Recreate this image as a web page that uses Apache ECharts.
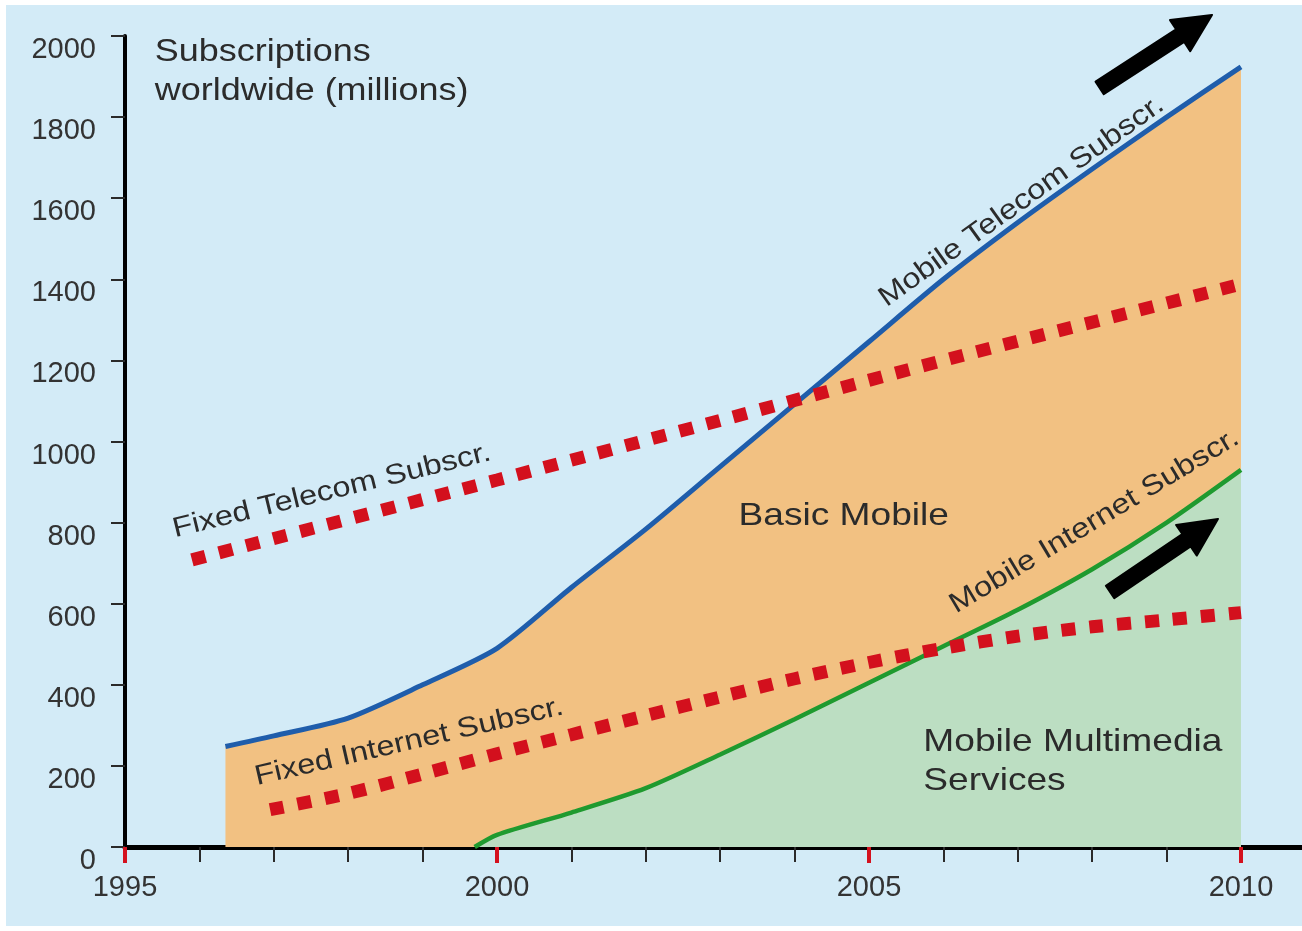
<!DOCTYPE html>
<html>
<head>
<meta charset="utf-8">
<title>Subscriptions worldwide (millions)</title>
<script src="https://cdn.jsdelivr.net/npm/echarts@6/dist/echarts.min.js"></script>
<style>
  html, body { margin: 0; padding: 0; background: #ffffff; width: 1302px; height: 931px; overflow: hidden; }
  #chart { position: absolute; left: 6px; top: 5px; width: 1296px; height: 921px; background: #d3ebf7; }
</style>
</head>
<body>
<div id="chart"></div>
<script>
// Subscriptions worldwide, in millions, by year
const mobileTelecomYears  = [1996.35, 1997, 1998, 1999, 2000, 2001, 2002, 2003, 2004, 2005, 2006, 2007, 2008, 2009, 2010];
const mobileTelecomValues = [248, 274, 318, 400, 490, 640, 784, 938, 1092, 1246, 1400, 1540, 1672, 1800, 1924];

const mobileInternetYears  = [1999.7, 2000, 2001, 2002, 2003, 2004, 2005, 2006, 2007, 2008, 2009, 2010];
const mobileInternetValues = [0, 30, 85, 145, 228, 315, 405, 495, 585, 685, 800, 930];

const fixedTelecomYears  = [1995.9, 2000, 2003, 2006, 2010];
const fixedTelecomValues = [708, 905, 1052, 1200, 1388];

const fixedInternetYears  = [1996.95, 1998, 1999, 2000, 2001, 2002, 2003, 2004, 2005, 2006, 2007, 2008, 2009, 2010];
const fixedInternetValues = [92, 132, 180, 230, 277, 324, 370, 415, 455, 490, 520, 543, 560, 578];

const yearLabels = [1995, 2000, 2005, 2010];

// annotations placed in data coordinates [year, value]
const titleText = 'Subscriptions\nworldwide (millions)';
const titleAt = [1995.40, 1912];
const seriesLabels = [
  { text: 'Fixed Telecom Subscr.',   at: [1997.78, 878],  angle: 13.7, size: 28 },
  { text: 'Mobile Telecom Subscr.',  at: [2007.05, 1592], angle: 35.5, size: 28 },
  { text: 'Mobile Internet Subscr.', at: [2008.03, 803],  angle: 31,   size: 28 },
  { text: 'Fixed Internet Subscr.',  at: [1998.82, 259],  angle: 13,   size: 28 }
];
const areaLabels = [
  { text: 'Basic Mobile', at: [2004.66, 816], align: 'center' },
  { text: 'Mobile Multimedia\nServices', at: [2005.73, 210], align: 'left' }
];
const growthArrows = [
  { from: [2008.10, 1872], to: [2009.61, 2052] },
  { from: [2008.24, 629],  to: [2009.69, 809] }
];

const FONT = '"Liberation Sans", Arial, Helvetica, sans-serif';
const TEXT_COLOR = '#2b2b2b';
const STRETCH = 1.16;

const pairs = (xs, ys) => xs.map((x, i) => [x, ys[i]]);

const chart = echarts.init(document.getElementById('chart'), null, { renderer: 'canvas' });

const option = {
  animation: false,
  backgroundColor: 'transparent',
  // 16 years at 74.4 px each; the year after 2010 falls past the right edge
  grid: { left: 119, width: 1190.4, top: 31, height: 811, containLabel: false, outerBoundsMode: 'none' },
  xAxis: [
    {
      type: 'value', min: 1995, max: 2011, interval: 1, position: 'bottom',
      axisLine: { show: true, onZero: false, lineStyle: { color: '#000000', width: 5 } },
      axisTick: { show: true, length: 15, lineStyle: { color: '#2a2a2a', width: 2 } },
      axisLabel: { show: false },
      splitLine: { show: false }
    },
    {
      type: 'value', min: 1995, max: 2011, interval: 5, position: 'bottom',
      axisLine: { show: false, onZero: false },
      axisTick: { show: true, length: 16, lineStyle: { color: '#d4111e', width: 4 } },
      axisLabel: {
        fontSize: 29, color: '#333333', fontFamily: FONT, margin: 26,
        formatter: v => (yearLabels.indexOf(v) >= 0 ? String(v) : '')
      },
      splitLine: { show: false }
    }
  ],
  yAxis: {
    type: 'value', min: 0, max: 2000, interval: 200,
    axisLine: { show: true, lineStyle: { color: '#000000', width: 4 } },
    axisTick: { show: true, length: 14, lineStyle: { color: '#2a2a2a', width: 2 } },
    axisLabel: {
      fontSize: 29, color: '#333333', fontFamily: FONT, margin: 29,
      verticalAlign: 'top', lineHeight: 28,
      formatter: v => String(v)
    },
    splitLine: { show: false }
  },
  series: [
    {
      name: 'Mobile Telecom Subscr.', type: 'line', xAxisIndex: 0,
      data: pairs(mobileTelecomYears, mobileTelecomValues),
      symbol: 'none', smooth: 0.25, z: 2,
      lineStyle: { color: '#1f5dab', width: 5 },
      areaStyle: { color: '#f2c182', opacity: 1 }
    },
    {
      name: 'Mobile Internet Subscr.', type: 'line', xAxisIndex: 0,
      data: pairs(mobileInternetYears, mobileInternetValues),
      symbol: 'none', smooth: 0.25, z: 3,
      lineStyle: { color: '#1f9a2f', width: 4.5 },
      areaStyle: { color: '#bcdec2', opacity: 1 }
    },
    {
      name: 'Fixed Telecom Subscr.', type: 'line', xAxisIndex: 0,
      data: pairs(fixedTelecomYears, fixedTelecomValues),
      symbol: 'none', smooth: 0.2, z: 4,
      lineStyle: { color: '#d3101d', width: 13, type: [14, 14], cap: 'butt' }
    },
    {
      name: 'Fixed Internet Subscr.', type: 'line', xAxisIndex: 0,
      data: pairs(fixedInternetYears, fixedInternetValues),
      symbol: 'none', smooth: 0.3, z: 4,
      lineStyle: { color: '#d3101d', width: 13, type: [14, 14], cap: 'butt' }
    }
  ]
};

chart.setOption(option);

const toPx = p => chart.convertToPixel({ xAxisIndex: 0, yAxisIndex: 0 }, p);

// thick block arrow from tail to tip
function arrowPoints(p0, p1, shaft, headW, headL) {
  const dx = p1[0] - p0[0], dy = p1[1] - p0[1];
  const L = Math.hypot(dx, dy);
  const ux = dx / L, uy = dy / L, nx = -uy, ny = ux;
  const bx = p1[0] - ux * headL, by = p1[1] - uy * headL;
  return [
    [p0[0] + nx * shaft / 2, p0[1] + ny * shaft / 2],
    [bx + nx * shaft / 2, by + ny * shaft / 2],
    [bx + nx * headW / 2, by + ny * headW / 2],
    [p1[0], p1[1]],
    [bx - nx * headW / 2, by - ny * headW / 2],
    [bx - nx * shaft / 2, by - ny * shaft / 2],
    [p0[0] - nx * shaft / 2, p0[1] - ny * shaft / 2]
  ];
}

const graphics = [];

const tp = toPx(titleAt);
graphics.push({
  type: 'text', x: tp[0], y: tp[1], scaleX: STRETCH, z: 10,
  style: { text: titleText, fontSize: 31, fontFamily: FONT, fill: TEXT_COLOR,
           align: 'left', verticalAlign: 'middle', lineHeight: 39 }
});

seriesLabels.forEach(l => {
  const p = toPx(l.at);
  graphics.push({
    type: 'text', x: p[0], y: p[1], rotation: l.angle * Math.PI / 180, scaleX: STRETCH, z: 10,
    style: { text: l.text, fontSize: l.size, fontFamily: FONT, fill: TEXT_COLOR,
             align: 'center', verticalAlign: 'middle' }
  });
});

areaLabels.forEach(l => {
  const p = toPx(l.at);
  graphics.push({
    type: 'text', x: p[0], y: p[1], scaleX: STRETCH, z: 10,
    style: { text: l.text, fontSize: 32, fontFamily: FONT, fill: TEXT_COLOR,
             align: l.align, verticalAlign: 'middle', lineHeight: 39 }
  });
});

growthArrows.forEach(a => {
  const p0 = toPx(a.from), p1 = toPx(a.to);
  graphics.push({
    type: 'polygon', z: 10,
    shape: { points: arrowPoints(p0, p1, 15, 37, 38) },
    style: { fill: '#000000', stroke: '#000000', lineWidth: 2, lineJoin: 'round' }
  });
});

chart.setOption({ graphic: graphics });
</script>
</body>
</html>
